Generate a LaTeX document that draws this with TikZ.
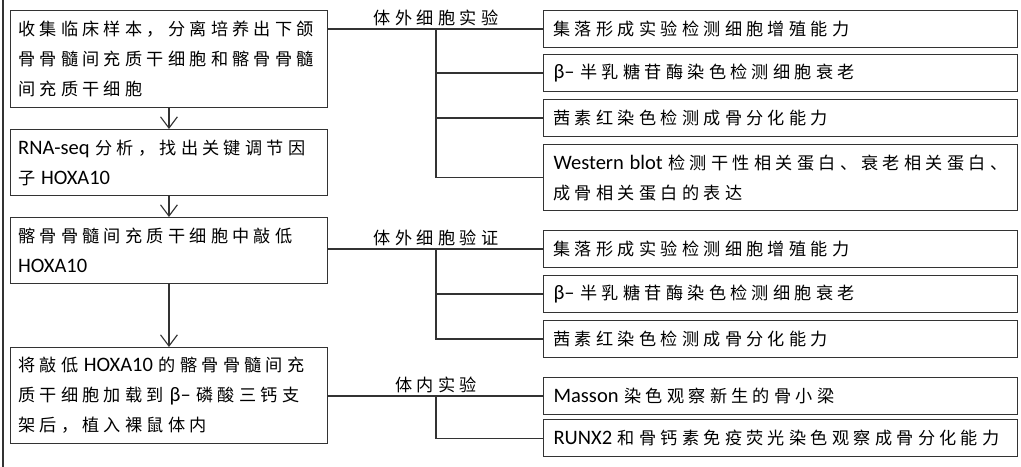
\documentclass[tikz,border=0pt]{standalone}
\usepackage{fontspec}
\setmainfont{Noto Sans CJK SC}[LetterSpace=25]
\newfontfamily\latfont{Carlito}
\newcommand{\lat}[1]{{\latfont\fontsize{14.6}{21.3}\selectfont #1}}
\usepackage{tikz}
\usetikzlibrary{arrows.meta, positioning}
\tikzset{
  stepbox/.style={rectangle, draw=black!80, line width=0.8pt, anchor=north west, text width=7.54cm, inner xsep=0.2cm, inner ysep=0pt, align=left, font=\fontsize{12.2}{21.3}\selectfont},
  testbox/.style={rectangle, draw=black!80, line width=0.8pt, anchor=north west, text width=11.35cm, inner xsep=0.25cm, inner ysep=0pt, minimum height=0.925cm, align=left, font=\fontsize{12.2}{21.3}\selectfont},
  grouplabel/.style={anchor=south, inner sep=2pt, font=\fontsize{12.2}{21.3}\selectfont},
  arrow/.style={line width=0.8pt, draw=black!80, -{Straight Barb[length=8pt,width=12pt]}},
  link/.style={line width=0.8pt, draw=black!80}
}
\begin{document}
\begin{tikzpicture}
\useasboundingbox (0,0) rectangle (25.525,-11.675);
\draw[link] (0.075,0) -- (0.075,-11.675);

% Left column: main steps
\node[stepbox, minimum height=2.425cm] (f1) at (0.24,-0.25) {收集临床样本，分离培养出下颌\\骨骨髓间充质干细胞和髂骨骨髓\\间充质干细胞};
\node[stepbox, minimum height=1.65cm] (f2) at (0.24,-3.225) {\lat{RNA-seq }分析，找出关键调节因\\子\lat{ HOXA10}};
\node[stepbox, minimum height=1.65cm] (f3) at (0.24,-5.425) {髂骨骨髓间充质干细胞中敲低\\\lat{HOXA10}};
\node[stepbox, minimum height=2.4cm] (f4) at (0.24,-8.675) {将敲低\lat{ HOXA10 }的髂骨骨髓间充\\质干细胞加载到\lat{ β– }磷酸三钙支\\架后，植入裸鼠体内};

\draw[arrow] (f1) -- (f2);
\draw[arrow] (f2) -- (f3);
\draw[arrow] (f3) -- (f4);

% Group 1: in vitro experiments
\node[testbox] (r11) at (13.575,-0.25) {集落形成实验检测细胞增殖能力};
\node[testbox] (r12) at (13.575,-1.35) {\lat{β– }半乳糖苷酶染色检测细胞衰老};
\node[testbox] (r13) at (13.575,-2.475) {茜素红染色检测成骨分化能力};
\node[testbox, minimum height=1.65cm] (r14) at (13.575,-3.6) {\lat{Western blot }检测干性相关蛋白、衰老相关蛋白、\\成骨相关蛋白的表达};

% Group 2: in vitro validation
\node[testbox] (r21) at (13.575,-5.75) {集落形成实验检测细胞增殖能力};
\node[testbox] (r22) at (13.575,-6.875) {\lat{β– }半乳糖苷酶染色检测细胞衰老};
\node[testbox] (r23) at (13.575,-8.0) {茜素红染色检测成骨分化能力};

% Group 3: in vivo
\node[testbox] (r31) at (13.575,-9.425) {\lat{Masson }染色观察新生的骨小梁};
\node[testbox] (r32) at (13.575,-10.475) {\lat{RUNX2 }和骨钙素免疫荧光染色观察成骨分化能力};

% Branch lines
\coordinate (t) at (10.9,0);
\draw[link] (f1.east |- r11.west) -- (r11.west);
\draw[link] (t |- r11.west) -- (t |- r14.west) -- (r14.west);
\draw[link] (t |- r12.west) -- (r12.west);
\draw[link] (t |- r13.west) -- (r13.west);
\node[grouplabel] (g1) at (t |- r11.west) {体外细胞实验};

\draw[link] (f3.east |- r21.west) -- (r21.west);
\draw[link] (t |- r21.west) -- (t |- r23.west) -- (r23.west);
\draw[link] (t |- r22.west) -- (r22.west);
\node[grouplabel] (g2) at (t |- r21.west) {体外细胞验证};

\draw[link] (f4.east |- r31.west) -- (r31.west);
\draw[link] (t |- r31.west) -- (t |- r32.west) -- (r32.west);
\node[grouplabel] (g3) at (t |- r31.west) {体内实验};
\end{tikzpicture}
\end{document}
